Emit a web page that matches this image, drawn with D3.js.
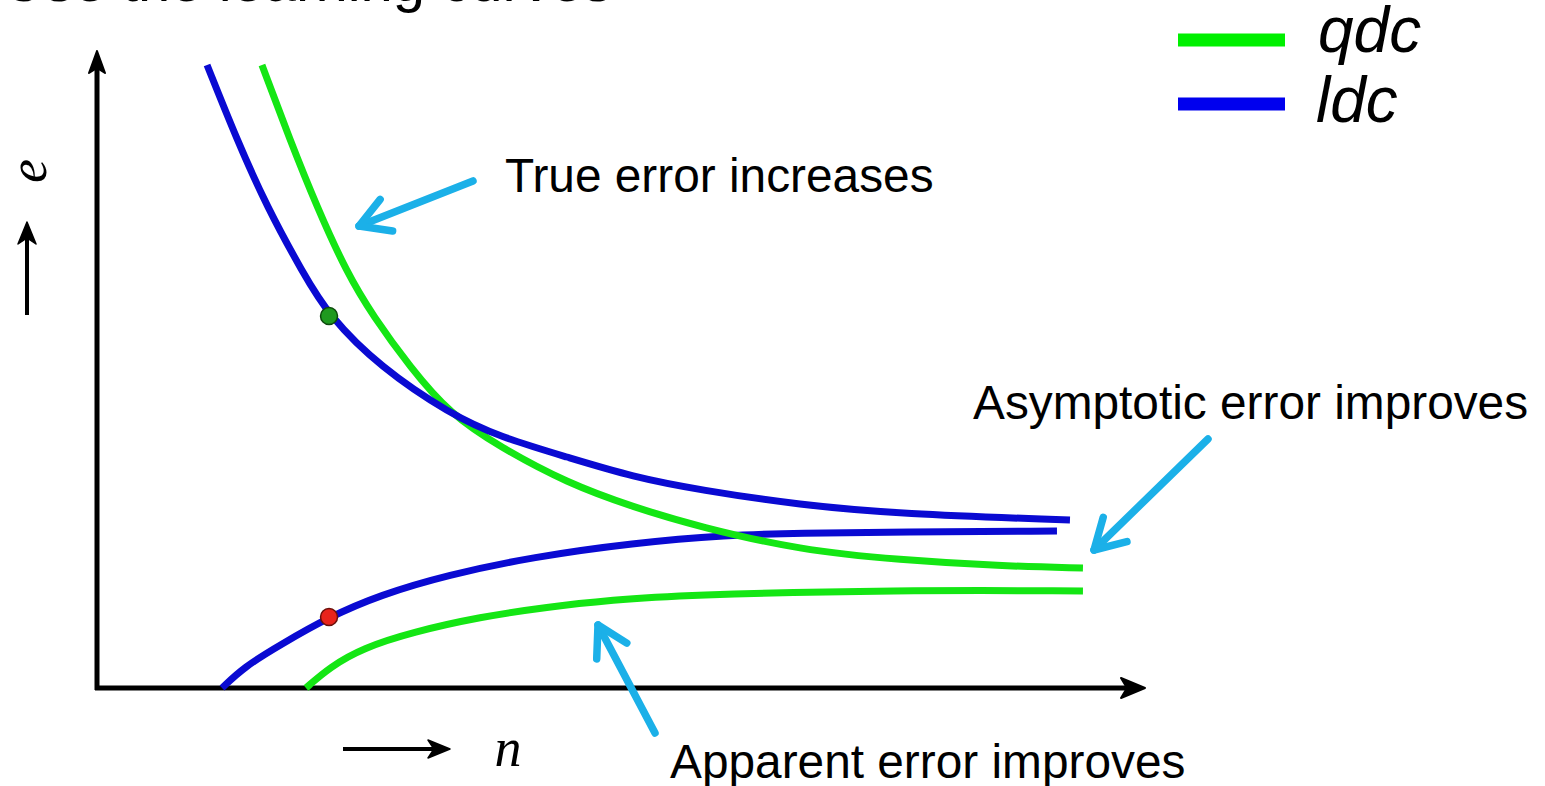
<!DOCTYPE html>
<html>
<head>
<meta charset="utf-8">
<script src="https://cdn.jsdelivr.net/npm/d3@7"></script>
<style>
  html, body { margin: 0; padding: 0; background: #fff; }
  svg { display: block; }
  text { font-family: "Liberation Sans", Arial, sans-serif; fill: #000; }
</style>
</head>
<body>
<svg id="chart" width="1545" height="786"></svg>
<script>
// Learning curves: error e against training set size n
const ldcTrueN = [10.50, 13.36, 16.22, 19.66, 22.14, 27.00, 33.68, 38.45, 44.85, 51.15, 57.54, 67.08, 76.62, 92.84];
const ldcTrueE = [98.42, 86.57, 75.99, 65.56, 58.77, 50.71, 43.29, 39.65, 36.49, 33.33, 31.28, 28.91, 27.49, 26.54];

const qdcTrueN = [15.74, 18.42, 20.99, 23.85, 26.34, 29.87, 33.68, 38.45, 44.85, 51.15, 57.54, 67.08, 76.62, 86.16, 94.08];
const qdcTrueE = [98.42, 86.57, 75.99, 65.56, 58.77, 50.71, 43.29, 38.07, 32.39, 28.59, 25.43, 21.80, 20.22, 19.27, 18.96];

const ldcAppN = [11.93, 14.03, 17.46, 22.14, 27.00, 33.40, 41.60, 51.15, 60.11, 67.08, 76.62, 91.60];
const ldcAppE = [0.00, 3.32, 6.79, 11.22, 14.69, 17.85, 20.70, 22.91, 24.17, 24.49, 24.64, 24.80];

const qdcAppN = [19.94, 22.23, 25.38, 30.15, 36.55, 42.94, 49.24, 55.63, 76.62, 94.08];
const qdcAppE = [0.00, 3.32, 6.32, 8.85, 11.22, 12.80, 13.90, 14.69, 15.48, 15.33];

// marked points on the ldc curves at the same n
const markN = [22.14, 22.14];
const markE = [58.77, 11.22];
const markFill = ["#1f9a1f", "#e8231c"];
const markStroke = ["#0c4a0c", "#6a0f0a"];

const legendLabels = ["qdc", "ldc"];
const legendColors = ["#00f000", "#0000ee"];

const annotations = [
  "True error increases",
  "Asymptotic error improves",
  "Apparent error improves"
];

const GREEN = "#14e614";
const BLUE = "#0a0ad2";
const CYAN = "#1bb0e8";

const svg = d3.select("#chart");

const x = d3.scaleLinear().domain([0, 100]).range([97, 1145]);
const y = d3.scaleLinear().domain([0, 100]).range([688, 55]);

// clipped heading above the plot
svg.append("text")
  .attr("x", 612).attr("y", 1)
  .attr("text-anchor", "end")
  .style("font-size", "58px")
  .text("Use the learning curves");

// axes
const axisColor = "#000";
svg.append("line")
  .attr("x1", x(0)).attr("y1", y(0) + 2)
  .attr("x2", x(0)).attr("y2", y(100) + 6)
  .attr("stroke", axisColor).attr("stroke-width", 5);
svg.append("line")
  .attr("x1", x(0) - 2).attr("y1", y(0))
  .attr("x2", x(100) - 14).attr("y2", y(0))
  .attr("stroke", axisColor).attr("stroke-width", 5);
// arrow heads on axes
svg.append("path")
  .attr("d", `M${x(0)},${y(100) - 4} L${x(0) - 8},${y(100) + 18} L${x(0)},${y(100) + 13} L${x(0) + 8},${y(100) + 18} Z`)
  .attr("fill", axisColor).attr("stroke", axisColor).attr("stroke-width", 2).attr("stroke-linejoin", "round");
svg.append("path")
  .attr("d", `M${x(100)},${y(0)} L${x(100) - 24},${y(0) - 10} L${x(100) - 18},${y(0)} L${x(100) - 24},${y(0) + 10} Z`)
  .attr("fill", axisColor).attr("stroke", axisColor).attr("stroke-width", 2).attr("stroke-linejoin", "round");

// axis titles with direction arrows
svg.append("text")
  .attr("transform", "translate(46,171) rotate(-90)")
  .attr("text-anchor", "middle")
  .style("font-family", "'Liberation Serif', 'DejaVu Serif', serif")
  .style("font-style", "italic")
  .style("font-size", "54px")
  .text("e");
svg.append("line")
  .attr("x1", 27).attr("y1", 315).attr("x2", 27).attr("y2", 236)
  .attr("stroke", "#000").attr("stroke-width", 4);
svg.append("path")
  .attr("d", "M27,222 L18,244 L27,238 L36,244 Z")
  .attr("fill", "#000").attr("stroke", "#000").attr("stroke-width", 1.5).attr("stroke-linejoin", "round");

svg.append("text")
  .attr("x", 508).attr("y", 766)
  .attr("text-anchor", "middle")
  .style("font-family", "'Liberation Serif', 'DejaVu Serif', serif")
  .style("font-style", "italic")
  .style("font-size", "54px")
  .text("n");
svg.append("line")
  .attr("x1", 343).attr("y1", 749).attr("x2", 436).attr("y2", 749)
  .attr("stroke", "#000").attr("stroke-width", 4);
svg.append("path")
  .attr("d", "M450,749 L428,740 L434,749 L428,758 Z")
  .attr("fill", "#000").attr("stroke", "#000").attr("stroke-width", 1.5).attr("stroke-linejoin", "round");

// curves
const line = d3.line()
  .x(d => x(d[0]))
  .y(d => y(d[1]))
  .curve(d3.curveBasis);

const series = [
  { n: ldcAppN, e: ldcAppE, color: BLUE },
  { n: qdcAppN, e: qdcAppE, color: GREEN },
  { n: qdcTrueN, e: qdcTrueE, color: GREEN },
  { n: ldcTrueN, e: ldcTrueE, color: BLUE }
];

svg.append("g").selectAll("path")
  .data(series)
  .join("path")
  .attr("d", s => line(d3.zip(s.n, s.e)))
  .attr("fill", "none")
  .attr("stroke", s => s.color)
  .attr("stroke-width", 7)
  .attr("stroke-linecap", "butt");

svg.append("g").selectAll("circle")
  .data(d3.range(markN.length))
  .join("circle")
  .attr("cx", i => x(markN[i]))
  .attr("cy", i => y(markE[i]))
  .attr("r", 8.5)
  .attr("fill", i => markFill[i])
  .attr("stroke", i => markStroke[i])
  .attr("stroke-width", 1.5);

// legend
const legend = svg.append("g");
legend.selectAll("line")
  .data(legendLabels)
  .join("line")
  .attr("x1", 1178).attr("x2", 1285)
  .attr("y1", (d, i) => 40 + i * 64)
  .attr("y2", (d, i) => 40 + i * 64)
  .attr("stroke", (d, i) => legendColors[i])
  .attr("stroke-width", 13);
legend.selectAll("text")
  .data(legendLabels)
  .join("text")
  .attr("x", (d, i) => 1318 - i * 2)
  .attr("y", (d, i) => 52 + i * 70)
  .style("font-style", "italic")
  .style("font-size", "64px")
  .text(d => d);

// annotation text
svg.append("text").attr("x", 505).attr("y", 192)
  .style("font-size", "47.8px").text(annotations[0]);
svg.append("text").attr("x", 973).attr("y", 419)
  .style("font-size", "47.8px").text(annotations[1]);
svg.append("text").attr("x", 670).attr("y", 778)
  .style("font-size", "47.8px").text(annotations[2]);

// annotation arrows
function arrow(tail, tip) {
  const dx = tail[0] - tip[0], dy = tail[1] - tip[1];
  const len = Math.hypot(dx, dy);
  const ux = dx / len, uy = dy / len;
  const L = 34, a = Math.PI / 6;
  const w1 = [tip[0] + L * (ux * Math.cos(a) - uy * Math.sin(a)), tip[1] + L * (ux * Math.sin(a) + uy * Math.cos(a))];
  const w2 = [tip[0] + L * (ux * Math.cos(-a) - uy * Math.sin(-a)), tip[1] + L * (ux * Math.sin(-a) + uy * Math.cos(-a))];
  const g = svg.append("g")
    .attr("fill", "none")
    .attr("stroke", CYAN)
    .attr("stroke-width", 7.5)
    .attr("stroke-linecap", "round")
    .attr("stroke-linejoin", "round");
  g.append("path").attr("d", `M${tail[0]},${tail[1]} L${tip[0]},${tip[1]}`);
  g.append("path").attr("d", `M${w1[0]},${w1[1]} L${tip[0]},${tip[1]} L${w2[0]},${w2[1]}`);
}
arrow([473, 181], [359, 226]);
arrow([1208, 439], [1094, 550]);
arrow([655, 733], [598, 625]);
</script>
</body>
</html>
